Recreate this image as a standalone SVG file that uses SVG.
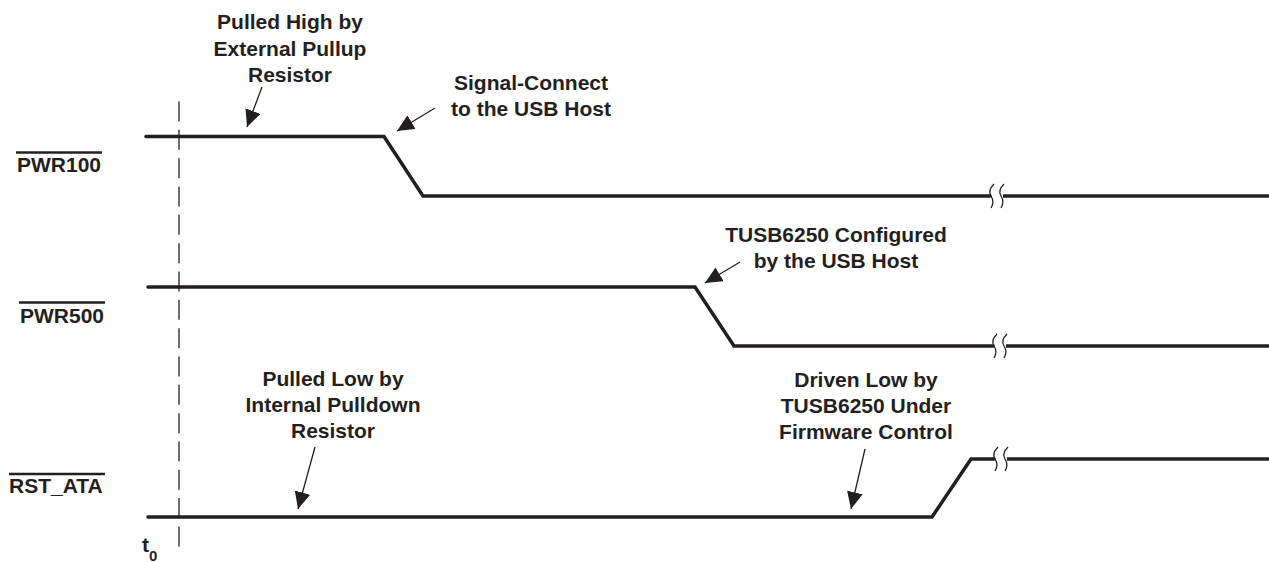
<svg xmlns="http://www.w3.org/2000/svg" width="1269" height="562" viewBox="0 0 1269 562">
  <style>
    .lbl { font-family: "Liberation Sans", Arial, sans-serif; font-weight: bold; font-size: 21px; fill: #231f20; }
    .ann { font-family: "Liberation Sans", Arial, sans-serif; font-weight: bold; font-size: 21px; fill: #231f20; text-anchor: middle; }
    .sig { fill: none; stroke: #231f20; stroke-width: 3.5; stroke-linejoin: miter; stroke-linecap: round; }
    .ovl { stroke: #231f20; stroke-width: 2.5; }
    .brk { fill: none; stroke: #231f20; stroke-width: 1.3; }
    .ptr { fill: none; stroke: #231f20; stroke-width: 1.3; }
    .dash { fill: none; stroke: #231f20; stroke-width: 1.3; stroke-dasharray: 20 8.33; }
  </style>
  <defs>
    <marker id="ah" markerUnits="userSpaceOnUse" markerWidth="18" markerHeight="16" refX="17" refY="8" orient="auto">
      <path d="M0,0 L17,8 L0,16 Z" fill="#231f20"/>
    </marker>
  </defs>

  <g id="t0-marker">
    <line class="dash" x1="179" y1="101.5" x2="179" y2="548"/>
    <text class="lbl" x="142" y="552">t<tspan font-size="15" dy="9">0</tspan></text>
  </g>

  <g id="pwr100">
    <text class="lbl" x="17" y="172">PWR100</text>
    <line class="ovl" x1="16" y1="152.5" x2="102" y2="152.5"/>
    <path class="sig" d="M146,136.5 L384,136.5 L423,196 L990,196"/>
    <path class="sig" d="M1003,196 L1269,196" style="stroke-linecap:butt"/>
    <path class="brk" d="M994,184 C989,189 989,193 991,196 C993,199 994,203 991,208"/>
    <path class="brk" d="M1004,184 C999,189 999,193 1001,196 C1003,199 1004,203 1001,208"/>
  </g>

  <g id="pwr500">
    <text class="lbl" x="20" y="323">PWR500</text>
    <line class="ovl" x1="19" y1="302.5" x2="105" y2="302.5"/>
    <path class="sig" d="M148,287 L695,287 L734,346 L993,346"/>
    <path class="sig" d="M1006,346 L1269,346" style="stroke-linecap:butt"/>
    <path class="brk" d="M997,334 C992,339 992,343 994,346 C996,349 997,353 994,358"/>
    <path class="brk" d="M1007,334 C1002,339 1002,343 1004,346 C1006,349 1007,353 1004,358"/>
  </g>

  <g id="rst_ata">
    <text class="lbl" x="9" y="493">RST_ATA</text>
    <line class="ovl" x1="9" y1="474" x2="105" y2="474"/>
    <path class="sig" d="M148,517 L932,517 L971,459 L994,459"/>
    <path class="sig" d="M1007,459 L1269,459" style="stroke-linecap:butt"/>
    <path class="brk" d="M998,447 C993,452 993,456 995,459 C997,462 998,466 995,471"/>
    <path class="brk" d="M1008,447 C1003,452 1003,456 1005,459 C1007,462 1008,466 1005,471"/>
  </g>

  <g id="note-pulled-high">
    <text class="ann" x="290" y="29">Pulled High by</text>
    <text class="ann" x="290" y="55.5">External Pullup</text>
    <text class="ann" x="290" y="82">Resistor</text>
  </g>
  <g id="note-signal-connect">
    <text class="ann" x="531" y="90">Signal-Connect</text>
    <text class="ann" x="531" y="116">to the USB Host</text>
  </g>
  <g id="note-configured">
    <text class="ann" x="836" y="242">TUSB6250 Configured</text>
    <text class="ann" x="836" y="268">by the USB Host</text>
  </g>
  <g id="note-pulled-low">
    <text class="ann" x="333" y="386">Pulled Low by</text>
    <text class="ann" x="333" y="412">Internal Pulldown</text>
    <text class="ann" x="333" y="438">Resistor</text>
  </g>
  <g id="note-driven-low">
    <text class="ann" x="866" y="387">Driven Low by</text>
    <text class="ann" x="866" y="413">TUSB6250 Under</text>
    <text class="ann" x="866" y="439">Firmware Control</text>
  </g>

  <g id="connectors">
    <line class="ptr" x1="262" y1="87" x2="247" y2="127" marker-end="url(#ah)"/>
    <line class="ptr" x1="435" y1="108" x2="397" y2="131" marker-end="url(#ah)"/>
    <line class="ptr" x1="740" y1="262" x2="705" y2="283" marker-end="url(#ah)"/>
    <line class="ptr" x1="315" y1="447" x2="298" y2="509" marker-end="url(#ah)"/>
    <line class="ptr" x1="865" y1="449" x2="851" y2="509" marker-end="url(#ah)"/>
  </g>
</svg>
